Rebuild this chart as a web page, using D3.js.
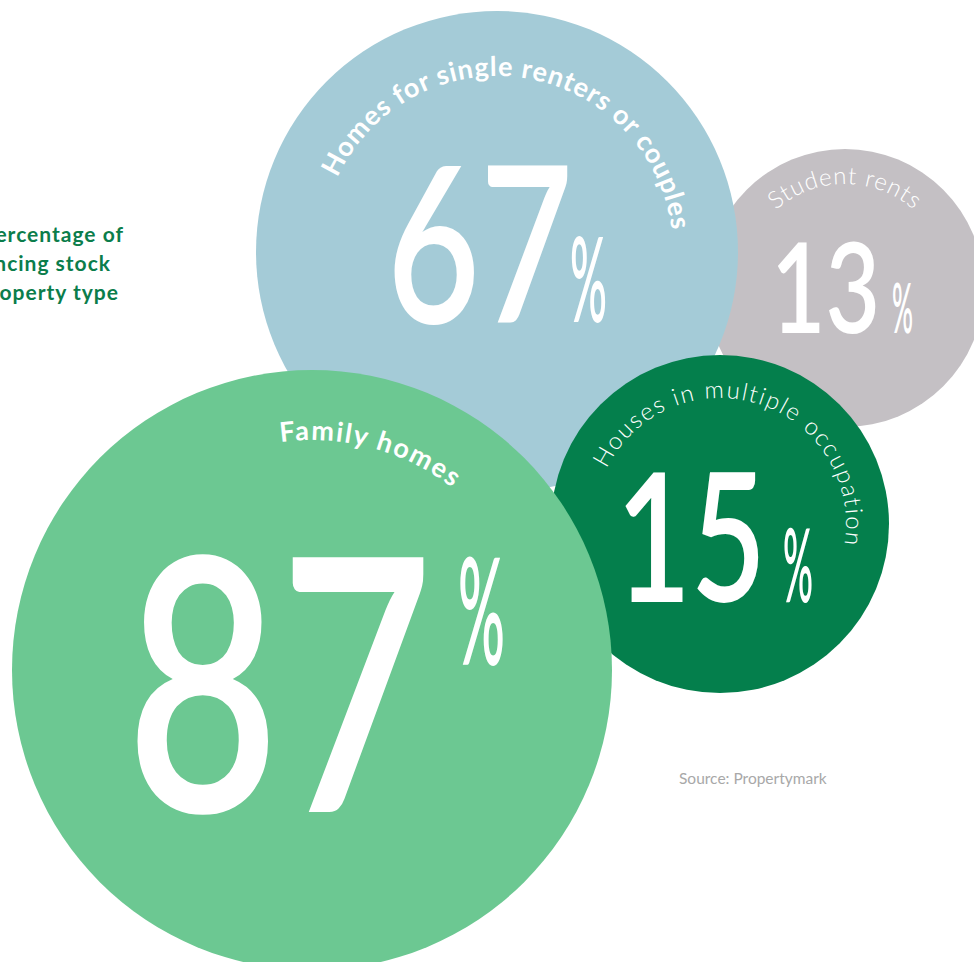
<!DOCTYPE html>
<html lang="en">
<head>
    <meta charset="UTF-8">
    <title>Financing stock by property type</title>
    <script src="https://cdn.jsdelivr.net/npm/d3@7"></script>
    <style>
        body {
            margin: 0;
            background: #fff;
            font-family: Lato, "Open Sans", sans-serif;
        }
    </style>
</head>
<body>
    <script>
        // values
        const categories = ["Student rents", "Homes for single renters or couples", "Houses in multiple occupation", "Family homes"];
        const shares = [13, 67, 15, 87];
        const titleLines = ["Percentage of", "financing stock", "by property type"];
        const source = "Source: Propertymark";

        const width = 974;
        const height = 962;

        const fillColor = d3.scaleOrdinal()
            .domain(categories)
            .range(["#c4c0c4", "#a4cbd7", "#047f4c", "#6cc892"]);

        // bubbles are not area-true in the original, so map the values piecewise
        const rScale = d3.scaleLinear().domain([13, 15, 67, 87]).range([139, 169, 241, 300]);

        // placement of each bubble and its texts
        const layout = {
            "Student rents": { cx: 845, cy: 288, labelR: 104, labelAt: 0, labelSize: 24, labelWeight: 300, spacing: 0.9,
                num: { dx: -74, dy: 45, size: 125, len: 109 }, pct: { dx: 47, dy: 45, size: 70, len: 21 } },
            "Homes for single renters or couples": { cx: 497, cy: 252, labelR: 176, labelAt: 9, labelSize: 27, labelWeight: 700, spacing: 0.9,
                num: { dx: -110, dy: 71, size: 217, len: 186 }, pct: { dx: 73, dy: 70, size: 117, len: 37 } },
            "Houses in multiple occupation": { cx: 720, cy: 524, labelR: 126, labelAt: 18, labelSize: 24, labelWeight: 300, spacing: 1.7,
                num: { dx: -104, dy: 78, size: 179, len: 150 }, pct: { dx: 63, dy: 78, size: 103, len: 30 } },
            "Family homes": { cx: 312, cy: 670, labelR: 230, labelAt: 15, labelSize: 27, labelWeight: 700, spacing: 1.7,
                num: { dx: -186, dy: 142, size: 354, len: 307 }, pct: { dx: 146, dy: -5, size: 149, len: 47 } }
        };

        const nodes = categories.map((c, i) => ({ name: c, value: shares[i], ...layout[c], r: rScale(shares[i]) }));

        const svg = d3.select("body").append("svg")
            .attr("width", width)
            .attr("height", height)
            .attr("viewBox", [0, 0, width, height]);

        const rad = deg => deg * Math.PI / 180;

        const bubble = svg.selectAll("g.bubble")
            .data(nodes)
            .join("g")
            .attr("class", "bubble");

        bubble.append("circle")
            .attr("cx", d => d.cx)
            .attr("cy", d => d.cy)
            .attr("r", d => d.r)
            .attr("fill", d => fillColor(d.name));

        // arc for the curved label, centred on labelAt (degrees clockwise from the top)
        bubble.append("path")
            .attr("id", (d, i) => "arc" + i)
            .attr("fill", "none")
            .attr("d", d => {
                const p = d3.path();
                p.arc(d.cx, d.cy, d.labelR, rad(d.labelAt - 179 - 90), rad(d.labelAt + 179 - 90), false);
                return p.toString();
            });

        bubble.append("text")
            .attr("fill", "#fff")
            .attr("font-size", d => d.labelSize)
            .attr("font-weight", d => d.labelWeight)
            .attr("letter-spacing", d => d.spacing)
            .append("textPath")
            .attr("href", (d, i) => "#arc" + i)
            .attr("startOffset", "50%")
            .attr("text-anchor", "middle")
            .text(d => d.name);

        bubble.append("text")
            .attr("fill", "#fff")
            .attr("x", d => d.cx + d.num.dx)
            .attr("y", d => d.cy + d.num.dy)
            .attr("font-size", d => d.num.size)
            .attr("font-weight", 600)
            .attr("textLength", d => d.num.len)
            .attr("lengthAdjust", "spacingAndGlyphs")
            .text(d => d.value);

        bubble.append("text")
            .attr("fill", "#fff")
            .attr("x", d => d.cx + d.pct.dx)
            .attr("y", d => d.cy + d.pct.dy)
            .attr("font-size", d => d.pct.size)
            .attr("font-weight", 600)
            .attr("textLength", d => d.pct.len)
            .attr("lengthAdjust", "spacingAndGlyphs")
            .text("%");

        // title, clipped by the left edge as in the original
        const titleEnds = [124, 111, 119];
        svg.append("g")
            .selectAll("text")
            .data(titleLines)
            .join("text")
            .attr("x", (d, i) => titleEnds[i])
            .attr("y", (d, i) => 242 + i * 29)
            .attr("text-anchor", "end")
            .attr("fill", "#0b7d4b")
            .attr("font-size", 21)
            .attr("font-weight", 700)
            .attr("letter-spacing", 1)
            .text(d => d);

        svg.append("text")
            .attr("x", 679)
            .attr("y", 784)
            .attr("fill", "#a8a8a8")
            .attr("font-size", 15.5)
            .text(source);
    </script>
</body>
</html>
